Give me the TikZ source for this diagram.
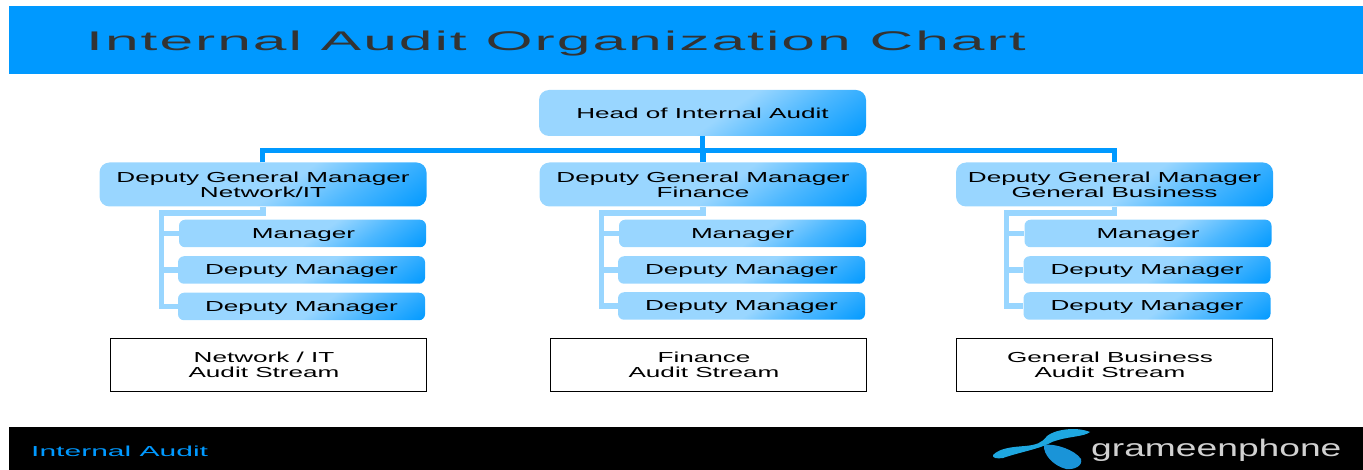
\documentclass[tikz,border=0pt]{standalone}
\usepackage{fontspec}
\setmainfont{Liberation Sans}
\newfontfamily\wide[FakeStretch=1.8]{Liberation Sans}
\newfontfamily\widefoot[FakeStretch=2.07]{Liberation Sans}
\newfontfamily\widebrand[FakeStretch=1.55]{Liberation Sans}
\newfontfamily\widetitle[FakeStretch=2.24,LetterSpace=7.5]{Liberation Sans}
\definecolor{gpblue}{HTML}{0099FF}
\definecolor{gplight}{HTML}{99D6FF}
\definecolor{gptitle}{HTML}{333333}
\definecolor{gplogo}{HTML}{1EA7E0}
\definecolor{gplogob}{HTML}{1A94D8}
\pgfdeclarehorizontalshading{boxg}{100bp}{color(0bp)=(gplight); color(54bp)=(gplight); color(68bp)=(gplight!50!gpblue); color(85bp)=(gpblue); color(100bp)=(gpblue)}
\tikzset{
  x=1pt,y=-1pt,
  txt/.style={font=\wide\fontsize{14.5}{15}\selectfont,text=black,align=center,inner sep=0pt},
  orgbox/.style={txt,shading=boxg,shading angle=-55,rounded corners=10pt,minimum width=327pt,minimum height=44pt},
  subbox/.style={txt,shading=boxg,shading angle=-55,rounded corners=6pt,minimum width=247pt,minimum height=27.5pt,text height=10pt,text depth=0pt},
  streambox/.style={txt,draw=black,line width=1pt,minimum width=316pt,minimum height=52pt},
  bus/.style={draw=gpblue,line width=5.5pt},
  subbus/.style={draw=gplight,line width=5.5pt},
}
\begin{document}
\begin{tikzpicture}
\useasboundingbox (0,0) rectangle (1363,470);
\fill[gpblue] (9,6) rectangle (1363,74);
\fill[black] (9,427) rectangle (1363,470);
\node[anchor=west,inner sep=0pt,text=gptitle,font=\widetitle\fontsize{27}{27}\selectfont,text height=19pt,text depth=0pt] (title) at (86,41.5) {Internal Audit Organization Chart};
\node[anchor=west,inner sep=0pt,text=gpblue,font=\widefoot\fontsize{14.5}{15}\selectfont] (foot) at (31,451) {Internal Audit};

\coordinate (busy) at (703,150.5);
\coordinate (bl) at (262.5,150.5);

\node[orgbox,minimum height=46pt] (head) at (702.5,113) {Head of Internal Audit};
\node[orgbox] (dgma) at (263,184.5) {Deputy General Manager\\Network/IT};
\node[orgbox] (dgmb) at (703,184.5) {Deputy General Manager\\Finance};
\node[orgbox,minimum width=317pt] (dgmc) at (1114.5,184.5) {Deputy General Manager\\General Business};

\node[subbox] (ma) at (302.5,233.5) {\hspace*{2pt}Manager};
\node[subbox] (da) at (301.5,270) {Deputy Manager};
\node[subbox] (ea) at (301.5,306.5) {Deputy Manager};
\node[subbox] (mb) at (742.5,233.5) {Manager};
\node[subbox] (db) at (741.5,270) {Deputy Manager};
\node[subbox] (eb) at (741.5,306) {Deputy Manager};
\node[subbox] (mc) at (1148,233.5) {Manager};
\node[subbox] (dc) at (1147,270) {Deputy Manager};
\node[subbox] (ec) at (1147,306) {Deputy Manager};

\node[streambox] (sa) at (268,365) {\hspace*{-8pt}Network / IT\\\hspace*{-8pt}Audit Stream};
\node[streambox] (sb) at (708,365) {\hspace*{-8pt}Finance\\\hspace*{-8pt}Audit Stream};
\node[streambox] (sc) at (1114,365) {\hspace*{-8pt}General Business\\\hspace*{-8pt}Audit Stream};

\draw[bus] (head.south) -- (head.south |- busy);
\draw[bus] (dgma.north -| bl) -- (bl) -- (bl -| dgmc.north) -- (dgmc.north);
\draw[bus] (dgmb.north) -- (dgmb.north |- busy);

\coordinate (sha) at (161.5,213);
\coordinate (shb) at (601.5,213);
\coordinate (shc) at (1006.5,213);
\draw[subbus] (dgma.south) -- (dgma.south |- sha) -- (sha) -- (sha |- ea.west) -- (ea.west);
\draw[subbus] (sha |- ma.west) -- (ma.west);
\draw[subbus] (sha |- da.west) -- (da.west);
\draw[subbus] (dgmb.south) -- (dgmb.south |- shb) -- (shb) -- (shb |- eb.west) -- (eb.west);
\draw[subbus] (shb |- mb.west) -- (mb.west);
\draw[subbus] (shb |- db.west) -- (db.west);
\draw[subbus] (dgmc.south) -- (dgmc.south |- shc) -- (shc) -- (shc |- ec.west) -- (ec.west);
\draw[subbus] (shc |- mc.west) -- (mc.west);
\draw[subbus] (shc |- dc.west) -- (dc.west);

% logo
\fill[gplogo] (993,455) .. controls (1000,448) and (1012,447) .. (1025,446)
  .. controls (1036,445) and (1042,443) .. (1047,436)
  .. controls (1054,430) and (1075,426) .. (1090,432)
  .. controls (1084,437) and (1068,436) .. (1052,442)
  .. controls (1040,449) and (1020,452) .. (1003,458)
  .. controls (997,459) and (992,458) .. (993,455) -- cycle;
\fill[gplogob] (1044,445) .. controls (1055,443) and (1075,450) .. (1081,459)
  .. controls (1083,466) and (1074,470) .. (1066,469)
  .. controls (1054,466) and (1043,455) .. (1044,445) -- cycle;
\node[anchor=west,inner sep=0pt,text=white!82!black,font=\widebrand\fontsize{24}{24}\selectfont] (brand) at (1091,450) {grameenphone};
\end{tikzpicture}
\end{document}
